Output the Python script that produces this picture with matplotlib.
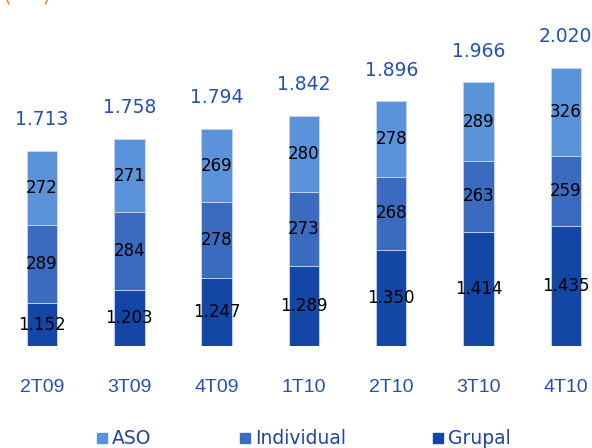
import numpy as np
import matplotlib
matplotlib.use("Agg")
import matplotlib.pyplot as plt

# datos
trimestres = ["2T09", "3T09", "4T09", "1T10", "2T10", "3T10", "4T10"]
grupal = [1152, 1203, 1247, 1289, 1350, 1414, 1435]
individual = [289, 284, 278, 273, 268, 263, 259]
aso = [272, 271, 269, 280, 278, 289, 326]
totales = [1713, 1758, 1794, 1842, 1896, 1966, 2020]
etiquetas_grupal = ["1.152", "1.203", "1.247", "1.289", "1.350", "1.414", "1.435"]
etiquetas_total = ["1.713", "1.758", "1.794", "1.842", "1.896", "1.966", "2.020"]

c_aso = "#5B93DA"
c_ind = "#3A6BBF"
c_gru = "#1446A6"
c_txt = "#2452B0"

fig = plt.figure(figsize=(5.92, 4.48), dpi=100)
ax = fig.add_axes([0, (448 - 346) / 448, 1, 346 / 448])

x = np.arange(len(trimestres))
ymin = 995
w = 0.35
ax.bar(x, grupal, w, color=c_gru, edgecolor="#C9D7EE", linewidth=0.6)
b_ind = np.array(grupal)
ax.bar(x, individual, w, bottom=b_ind, color=c_ind, edgecolor="#C9D7EE", linewidth=0.6)
b_aso = b_ind + np.array(individual)
ax.bar(x, aso, w, bottom=b_aso, color=c_aso, edgecolor="#C9D7EE", linewidth=0.6)

ax.set_xlim(-0.481, 6.30)
ax.set_ylim(ymin, ymin + 346 / 0.2716)
ax.axis("off")

for i in x:
    ax.text(i, (ymin + grupal[i]) / 2, etiquetas_grupal[i], ha="center", va="center",
            fontsize=12, color="black")
    ax.text(i, b_ind[i] + individual[i] / 2, str(individual[i]), ha="center", va="center",
            fontsize=12, color="black")
    ax.text(i, b_aso[i] + aso[i] / 2, str(aso[i]), ha="center", va="center",
            fontsize=12, color="black")
    ax.text(i, totales[i] + 115, etiquetas_total[i], ha="center", va="center",
            fontsize=13.5, color=c_txt)
    ax.text(i, ymin - 152, trimestres[i], ha="center", va="center",
            fontsize=14, color=c_txt, family="Liberation Sans", clip_on=False)

# titulo recortado arriba
fig.text(4 / 592, 1 - 2 / 448, "(     )", color="#F07D28", fontsize=14,
         va="baseline", ha="left")

# leyenda
for px, nombre, col in [(97, "ASO", c_aso), (240, "Individual", c_ind), (433, "Grupal", c_gru)]:
    fig.patches.append(plt.Rectangle((px / 592, (448 - 443) / 448), 10 / 592, 10 / 448,
                                     transform=fig.transFigure, color=col))
    fig.text((px + 15) / 592, (448 - 438) / 448, nombre, color="#1F45A0", fontsize=13.5,
             va="center", ha="left")

fig.savefig("out.png", dpi=100)
